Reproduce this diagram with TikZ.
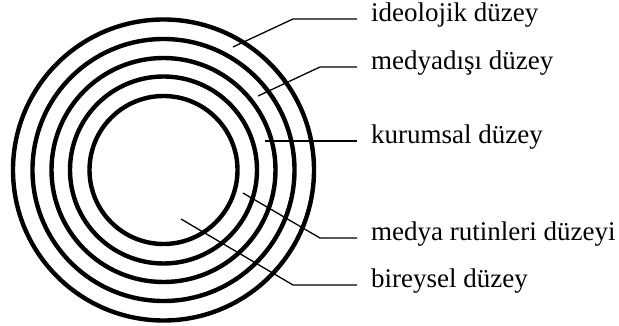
\documentclass[tikz,border=0pt]{standalone}
\usepackage{fontspec}
\setmainfont{Liberation Serif}
\usetikzlibrary{positioning}
\tikzset{
  lvl ring/.style={draw=black, line width=4.4pt},
  lvl leader/.style={draw=black, line width=1.3pt, shorten >=15pt},
  lvl label/.style={font=\fontsize{27}{30}\selectfont, anchor=mid west, inner sep=0pt},
}

\begin{document}
\begin{tikzpicture}[x=1pt, y=-1pt]
  \useasboundingbox (0,0) rectangle (619,326);

  % Rings, outside to inside
  \coordinate (mid) at (163.5,170);
  \foreach \r in {150.5,131,112,93.5,74} {
    \draw[lvl ring] (mid) circle[radius=\r pt];
  }

  % Labels
  \node[lvl label] (ideo) at (371,19) {ideolojik düzey};
  \node[lvl label] (extra) at (371,67) {medyadışı düzey};
  \node[lvl label] (inst) at (371,141) {kurumsal düzey};
  \node[lvl label] (rout) at (371,238) {medya rutinleri düzeyi};
  \node[lvl label] (indiv) at (371,285) {bireysel düzey};

  % Leaders
  \coordinate (ideo tip) at (233,47);
  \coordinate (ideo bend) at (293,19);
  \coordinate (extra tip) at (258,96);
  \coordinate (extra bend) at (320,67);
  \coordinate (inst tip) at (265,141);
  \coordinate (rout tip) at (243,193);
  \coordinate (rout bend) at (320,238);
  \coordinate (indiv tip) at (181,219);
  \coordinate (indiv bend) at (293,285);
  \draw[lvl leader, shorten >=14pt] (ideo tip) -- (ideo bend) -- (ideo.mid west);
  \draw[lvl leader, shorten >=14pt] (extra tip) -- (extra bend) -- (extra.mid west);
  \draw[lvl leader, shorten >=14pt] (inst tip) -- (inst.mid west);
  \draw[lvl leader, shorten >=14pt] (rout tip) -- (rout bend) -- (rout.mid west);
  \draw[lvl leader, shorten >=14pt] (indiv tip) -- (indiv bend) -- (indiv.mid west);
\end{tikzpicture}
\end{document}
